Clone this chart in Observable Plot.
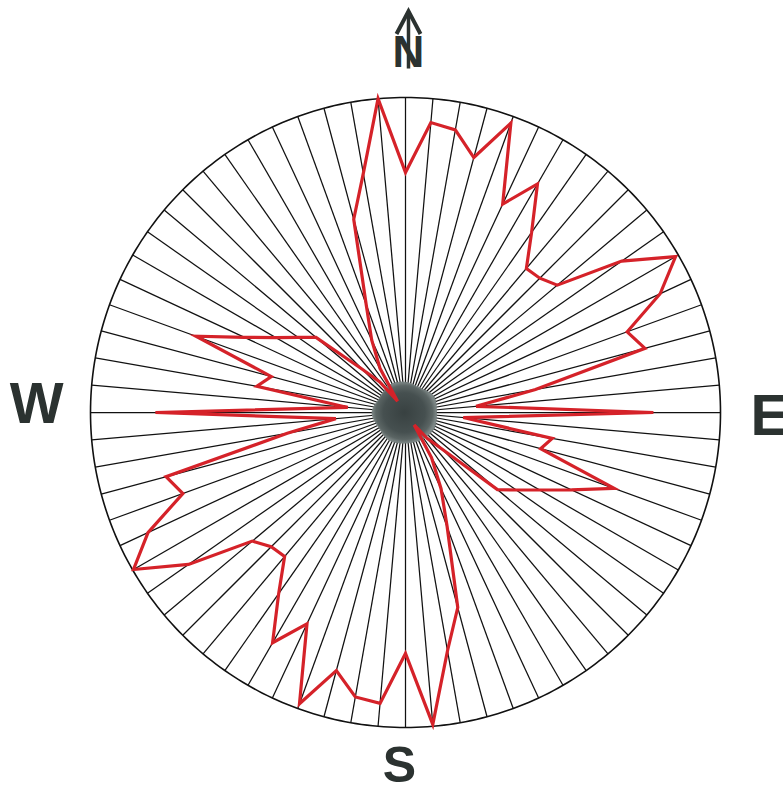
<!DOCTYPE html>
<html>
<head>
<meta charset="utf-8">
<script src="https://cdn.jsdelivr.net/npm/d3@7"></script>
<script src="https://cdn.jsdelivr.net/npm/@observablehq/plot@0.6"></script>
<style>
  html, body { margin: 0; padding: 0; background: #fff; }
  #chart { width: 783px; height: 790px; overflow: hidden; }
</style>
</head>
<body>
<div id="chart"></div>
<script>
// Bearing of each sector (degrees clockwise from North)
const bearings = [0,5,10,15,20,25,30,35,40,45,50,55,60,65,70,75,80,85,
  90,95,100,105,110,115,120,125,130,135,140,145,150,155,160,165,170,175,
  180,185,190,195,200,205,210,215,220,225,230,235,240,245,250,255,260,265,
  270,275,280,285,290,295,300,305,310,315,320,325,330,335,340,345,350,355];
// Relative frequency per bearing (% of the outer circle)
const frequency = [76.2,92.4,91.1,83.8,97.8,73.0,83.8,69.8,59.7,60.3,62.9,83.8,99.0,89.2,74.9,78.7,41.9,22.5,
  78.7,18.4,47.3,44.4,70.5,58.1,49.2,42.9,38.1,16.5,10.8,4.8,16.5,26.7,38.7,64.1,76.8,99.4,
  76.5,92.7,91.7,84.8,98.4,74.0,84.4,70.2,59.7,60.3,63.5,84.1,99.7,90.2,75.2,78.7,38.1,22.2,
  79.4,18.4,47.9,44.1,70.8,56.5,47.6,41.6,37.1,19.4,12.7,4.4,16.2,25.4,36.5,63.5,77.1,100];
// Radial grid lines (every 5 degrees)
const spokes = bearings;
// Irregular central blob outline (bearing, radius % of circle)
const blobBearings = [0,30,60,90,120,150,180,210,240,270,300,330];
const blobRadius = [9.6,9.0,10.3,9.8,10.4,9.9,9.7,10.2,9.7,10.6,9.4,10.1];
// Compass labels
const compass = ["N", "E", "S", "W"];
const compassX = [0.0095, 1.095, -0.019, -1.171];
const compassY = [1.141, -0.014, -1.122, 0.025];
const compassSize = [44, 58, 50, 57];
const compassAnchor = ["middle", "start", "middle", "middle"];
// North arrow (x, from y, to y)
const northArrow = [{x: 0.0095, y1: 1.092, y2: 1.274}];

const rad = d => d * Math.PI / 180;
const profile = bearings.map((b, i) => ({b, r: frequency[i] / 100}));
const blob = blobBearings.map((b, i) => ({b, r: blobRadius[i] / 100}));
const ring = d3.range(0, 360, 1);
const labels = compass.map((t, i) => ({t, x: compassX[i], y: compassY[i], size: compassSize[i], anchor: compassAnchor[i]}));

// chevron arrowhead symbol, tip at the dot position
const chevron = {
  draw(context, size) {
    const k = Math.sqrt(size / Math.PI);
    context.moveTo(-k, 1.9 * k);
    context.lineTo(0, 0);
    context.lineTo(k, 1.9 * k);
  }
};

const defs = () => {
  const ns = "http://www.w3.org/2000/svg";
  const g = document.createElementNS(ns, "defs");
  const grad = document.createElementNS(ns, "radialGradient");
  grad.setAttribute("id", "blobGrad");
  [["0%", "#384141"], ["65%", "#465050"], ["88%", "#5b6564"], ["100%", "#7d8786"]].forEach(([o, c]) => {
    const s = document.createElementNS(ns, "stop");
    s.setAttribute("offset", o);
    s.setAttribute("stop-color", c);
    grad.appendChild(s);
  });
  g.appendChild(grad);
  return g;
};

const labelMarks = labels.map(l => Plot.text([l], {
  x: "x", y: "y", text: "t", fontSize: l.size, fontWeight: "bold",
  fontFamily: "Liberation Sans, Arial, sans-serif", fill: "#2b3230",
  textAnchor: l.anchor, lineAnchor: "middle"
}));

const chart = Plot.plot({
  width: 783,
  height: 790,
  marginLeft: 90,
  marginRight: 63,
  marginTop: 97,
  marginBottom: 63,
  x: {domain: [-1, 1], axis: null},
  y: {domain: [-1, 1], axis: null},
  style: {background: "#fff", overflow: "visible"},
  marks: [
    defs,
    Plot.link(spokes, {
      x1: 0, y1: 0,
      x2: b => Math.sin(rad(b)), y2: b => Math.cos(rad(b)),
      stroke: "#111", strokeWidth: 1.25
    }),
    Plot.line(ring, {
      x: b => Math.sin(rad(b)), y: b => Math.cos(rad(b)),
      stroke: "#111", strokeWidth: 1.6, curve: "linear-closed"
    }),
    Plot.line(blob, {
      x: d => d.r * Math.sin(rad(d.b)), y: d => d.r * Math.cos(rad(d.b)),
      fill: "url(#blobGrad)", stroke: "#76807f", strokeWidth: 1, curve: "catmull-rom-closed"
    }),
    Plot.line(profile, {
      x: d => d.r * Math.sin(rad(d.b)), y: d => d.r * Math.cos(rad(d.b)),
      stroke: "#d52229", strokeWidth: 3.2, curve: "linear-closed",
      strokeLinejoin: "miter", strokeMiterlimit: 6
    }),
    ...labelMarks,
    Plot.link(northArrow, {
      x1: "x", x2: "x", y1: "y1", y2: "y2",
      stroke: "#2b3230", strokeWidth: 3.5
    }),
    Plot.dot(northArrow, {
      x: "x", y: "y2", symbol: chevron, r: 12,
      fill: "none", stroke: "#2b3230", strokeWidth: 4, strokeLinejoin: "miter"
    })
  ]
});
document.getElementById("chart").appendChild(chart);
</script>
</body>
</html>
